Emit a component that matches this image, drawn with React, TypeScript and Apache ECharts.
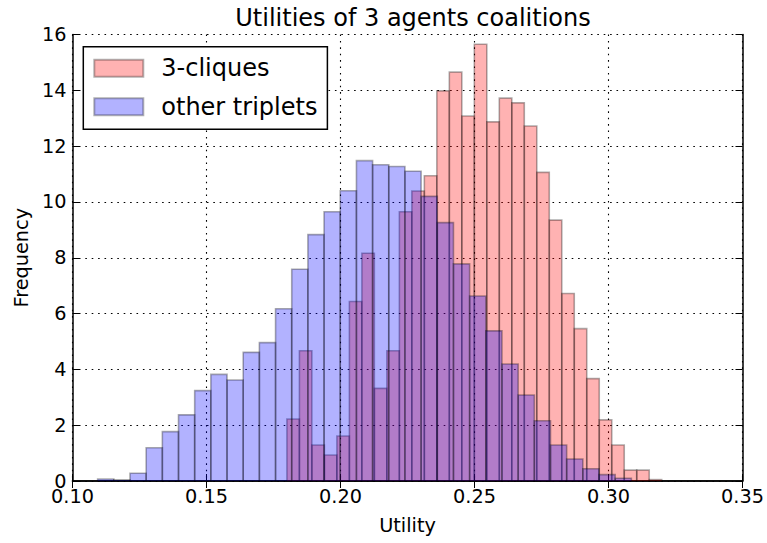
import React, { useEffect, useRef } from "react";
import * as echarts from "echarts";

// Histogram bins: start of first bin and bin width (utility units)
const cliqueBinStart = 0.18;
const cliqueBinWidth = 0.004662;
const cliqueFreq = [
  2.22, 4.67, 1.29, 0.93, 1.61, 6.43, 8.16, 3.32, 4.67, 9.65,
  10.39, 10.94, 13.98, 14.65, 13.08, 15.65, 12.87, 13.72, 13.55, 12.72,
  11.06, 9.35, 6.72, 5.46, 3.67, 2.19, 1.29, 0.39, 0.39, 0.05,
];

const otherBinStart = 0.10938;
const otherBinWidth = 0.006035;
const otherFreq = [
  0.07, 0.04, 0.28, 1.19, 1.77, 2.37, 3.24, 3.82, 3.62, 4.61,
  4.96, 6.17, 7.59, 8.83, 9.65, 10.4, 11.48, 11.33, 11.27, 11.1,
  10.2, 9.26, 7.78, 6.63, 5.38, 4.19, 3.08, 2.16, 1.29, 0.79,
  0.44, 0.23, 0.1,
];

const seriesNames = ["3-cliques", "other triplets"];
const titleText = "Utilities of 3 agents coalitions";
const xName = "Utility";
const yName = "Frequency";

const FONT = "DejaVu Sans";

function toBins(start: number, width: number, values: number[]) {
  return values.map((v, i) => [start + i * width, start + (i + 1) * width, v]);
}

function renderBar(fill: string) {
  return (params: any, api: any) => {
    const p0 = api.coord([api.value(0), 0]);
    const p1 = api.coord([api.value(1), api.value(2)]);
    return {
      type: "rect",
      shape: { x: p0[0], y: p1[1], width: p1[0] - p0[0], height: p0[1] - p1[1] },
      style: { fill, stroke: "rgba(0,0,0,0.32)", lineWidth: 1.6 },
    };
  };
}

export default function App() {
  const ref = useRef<HTMLDivElement>(null);
  useEffect(() => {
    document.body.style.margin = "0";
    const chart = echarts.init(ref.current!, null, { renderer: "svg" });
    const axisLine = { show: true, lineStyle: { color: "#000", width: 1.5 } };
    const tick = { show: true, inside: true, length: 7, lineStyle: { color: "#000", width: 1 } };
    const grid = { show: true, lineStyle: { color: "#000", width: 1.1, type: [1.6, 4.8] as any } };
    const redFill = "rgba(255,0,0,0.3)";
    const blueFill = "rgba(0,0,255,0.3)";
    chart.setOption({
      animation: false,
      backgroundColor: "#fff",
      title: {
        text: titleText,
        left: 408,
        textAlign: "center",
        top: 1,
        textStyle: { fontFamily: FONT, fontSize: 24, fontWeight: "normal", color: "#000" },
      },
      grid: { left: 72.5, right: 24.5, top: 34.5, bottom: 62 },
      legend: {
        orient: "vertical",
        left: 83.3,
        top: 46.7,
        padding: [9.6, 10, 10.6, 10],
        itemGap: 14.4,
        itemWidth: 49,
        itemHeight: 17,
        icon: "rect",
        backgroundColor: "#fff",
        borderColor: "#000",
        borderWidth: 1.5,
        borderRadius: 0,
        data: seriesNames,
        textStyle: { fontFamily: FONT, fontSize: 24, color: "#000", padding: [0, 0, 0, 13] },
      },
      xAxis: [
        {
          type: "value",
          position: "bottom",
          min: 0.1,
          max: 0.35,
          interval: 0.05,
          name: xName,
          nameLocation: "middle",
          nameGap: 35,
          nameTextStyle: { fontFamily: FONT, fontSize: 19.3, color: "#000" },
          axisLine,
          axisTick: tick,
          splitLine: grid,
          axisLabel: {
            margin: 7,
            fontFamily: FONT,
            fontSize: 19.3,
            lineHeight: 16,
            color: "#000",
            formatter: (v: number) => v.toFixed(2),
          },
        },
        {
          type: "value",
          position: "top",
          min: 0.1,
          max: 0.35,
          interval: 0.05,
          axisLine,
          axisTick: tick,
          splitLine: { show: false },
          axisLabel: { show: false },
        },
      ],
      yAxis: [
        {
          type: "value",
          position: "left",
          min: 0,
          max: 16,
          interval: 2,
          name: yName,
          nameLocation: "middle",
          nameGap: 38,
          nameTextStyle: { fontFamily: FONT, fontSize: 19.3, color: "#000" },
          axisLine,
          axisTick: tick,
          splitLine: grid,
          axisLabel: { margin: 6, fontFamily: FONT, fontSize: 19.3, lineHeight: 14, color: "#000" },
        },
        {
          type: "value",
          position: "right",
          min: 0,
          max: 16,
          interval: 2,
          axisLine,
          axisTick: tick,
          splitLine: { show: false },
          axisLabel: { show: false },
        },
      ],
      series: [
        {
          name: seriesNames[0],
          type: "custom",
          xAxisIndex: 0,
          yAxisIndex: 0,
          renderItem: renderBar(redFill),
          itemStyle: { color: redFill, borderColor: "rgba(0,0,0,0.3)", borderWidth: 1.5 },
          encode: { x: [0, 1], y: 2 },
          data: toBins(cliqueBinStart, cliqueBinWidth, cliqueFreq),
        },
        {
          name: seriesNames[1],
          type: "custom",
          xAxisIndex: 0,
          yAxisIndex: 0,
          renderItem: renderBar(blueFill),
          itemStyle: { color: blueFill, borderColor: "rgba(0,0,0,0.3)", borderWidth: 1.5 },
          encode: { x: [0, 1], y: 2 },
          data: toBins(otherBinStart, otherBinWidth, otherFreq),
        },
      ],
    });
    return () => chart.dispose();
  }, []);
  return <div ref={ref} style={{ width: 767, height: 543 }} />;
}
